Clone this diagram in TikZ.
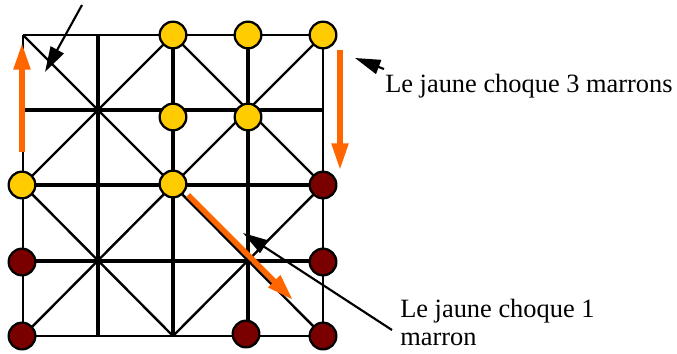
\documentclass[tikz,border=0pt]{standalone}
\usepackage{fontspec}
\setmainfont{Liberation Serif}
\usetikzlibrary{arrows.meta}
\definecolor{jaune}{RGB}{255,204,0}
\definecolor{marron}{RGB}{122,0,0}
\definecolor{orangeA}{RGB}{255,102,0}
\begin{document}
\begin{tikzpicture}[x=0.75pt,y=-0.75pt,
  pion/.style={circle,draw=black,line width=1.7pt,minimum size=20pt,inner sep=0pt},
  jp/.style={pion,fill=jaune},
  mp/.style={pion,fill=marron},
  diag/.style={line width=1.8pt},
  oarrow/.style={draw=orangeA,line width=4pt,-{Triangle[length=20pt,width=12pt]}},
  barrow/.style={draw=black,line width=1.6pt,-{Triangle[length=19pt,width=11pt]}},
  lbl/.style={anchor=base west,inner sep=0pt,font=\fontsize{19.8}{24}\selectfont}
]
\useasboundingbox (0,0) rectangle (677,353);
\foreach \i/\x in {0/23,1/98,2/173,3/248,4/323}
  \foreach \j/\y in {0/35,1/110,2/185,3/261,4/336}
    \coordinate (g\i\j) at (\x,\y);
% horizontal lines
\draw[line width=2.1pt] (g00) -- (g40);
\draw[line width=2.5pt] (g01) -- (g41);
\draw[line width=3.4pt] (g02) -- (g42);
\draw[line width=2.7pt] (g03) -- (g43);
\draw[line width=1.9pt] (g04) -- (g44);
% vertical lines
\draw[line width=1.8pt] (g00) -- (g04);
\draw[line width=3pt] (g10) -- (g14);
\draw[line width=3pt] (g20) -- (g24);
\draw[line width=3pt] (g30) -- (g34);
\draw[line width=1.8pt] (g40) -- (g44);
% diagonals
\draw[diag] (g00) -- (g22) (g20) -- (g02);
\draw[diag] (g20) -- (g42) (g40) -- (g22);
\draw[diag] (g02) -- (g24) (g22) -- (g04);
\draw[diag] (g22) -- (g44) (g42) -- (g24);
% pieces
\node[jp] (y1) at (173,35) {};
\node[jp] (y2) at (248,35) {};
\node[jp] (y3) at (323,35) {};
\node[jp] (y4) at (173,117) {};
\node[jp] (y5) at (248,117) {};
\node[jp] (y6) at (22,185) {};
\node[jp] (y7) at (173,184) {};
\node[mp] (m1) at (323,185) {};
\node[mp] (m2) at (22,262) {};
\node[mp] (m3) at (323,262) {};
\node[mp] (m4) at (22,336) {};
\node[mp] (m5) at (246,334) {};
\node[mp] (m6) at (323,336) {};
% orange arrows
\coordinate (oa1) at (22,152); \coordinate (oa2) at (22,43);
\coordinate (ob1) at (340,50); \coordinate (ob2) at (340,170);
\coordinate (oc1) at (188,195); \coordinate (oc2) at (293,300);
\draw[oarrow] (oa1) -- (oa2);
\draw[oarrow] (ob1) -- (ob2);
\draw[oarrow] (oc1) -- (oc2);
% labels
\node[lbl] (txtA) at (385,92) {Le jaune choque 3 marrons};
\node[lbl] (txtB) at (400,317) {Le jaune choque 1};
\node[lbl] (txtC) at (400,345) {marron};
% black arrows
\coordinate (ba1) at (82,5); \coordinate (ba2) at (45,72);
\coordinate (bb1) at (384,69); \coordinate (bb2) at (355,58);
\coordinate (bc1) at (392,330); \coordinate (bc2) at (243,233);
\draw[barrow] (ba1) -- (ba2);
\draw[barrow] (bb1) -- (bb2);
\draw[barrow] (bc1) -- (bc2);
\end{tikzpicture}
\end{document}
